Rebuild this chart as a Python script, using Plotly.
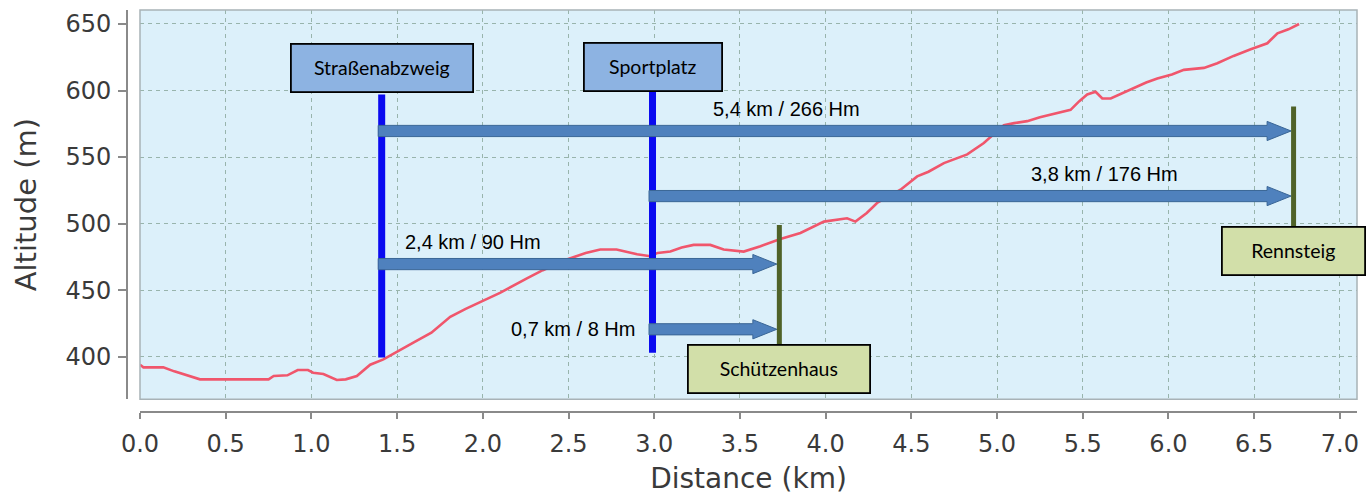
import plotly.graph_objects as go

# ---------------- data ----------------
dist_km = [0.0, 0.02, 0.136, 0.2, 0.35, 0.75, 0.78, 0.86, 0.92, 0.98, 1.01, 1.07, 1.148, 1.2,
           1.265, 1.343, 1.42, 1.50, 1.60, 1.70, 1.81, 1.90, 2.0, 2.10, 2.26, 2.35, 2.49, 2.60,
           2.685, 2.78, 2.90, 2.977, 3.02, 3.094, 3.16, 3.23, 3.327, 3.405, 3.522, 3.62, 3.736,
           3.853, 3.99, 4.07, 4.125, 4.174, 4.24, 4.30, 4.437, 4.534, 4.60, 4.69, 4.76, 4.826,
           4.923, 4.98, 5.04, 5.10, 5.176, 5.25, 5.312, 5.38, 5.429, 5.48, 5.526, 5.575, 5.614,
           5.663, 5.73, 5.80, 5.87, 5.935, 6.02, 6.09, 6.207, 6.285, 6.38, 6.48, 6.577, 6.636,
           6.70, 6.762]
altitude_m = [394, 392, 392, 389, 383, 383, 385.5, 386, 390, 390, 388, 387, 382.5, 383,
              385.5, 394, 398, 404, 411, 418, 430, 436, 442, 448, 459, 465, 473, 478,
              480.5, 480.5, 477, 475.5, 478, 479, 482, 484, 484, 480.5, 479, 483, 488.5,
              493, 501.5, 503, 504, 501.5, 508, 515.5, 525.5, 535.5, 539, 545.5, 549, 552,
              560.5, 567, 574, 575.5, 577, 580, 582, 584, 585.5, 592, 597, 599, 594,
              594, 598, 602, 606, 609, 612, 615.5, 617, 620.5, 626, 631, 635.5, 643,
              646, 650]

# start points (blue bars)
start_names = ["Straßenabzweig", "Sportplatz"]
start_km = [1.41, 2.99]
start_bar_bottom = [399.5, 403.0]
start_bar_top = [597.0, 599.5]
start_box_alt = [616.6, 617.7]

# destinations (green lines)
dest_names = ["Schützenhaus", "Rennsteig"]
dest_km = [3.73, 6.73]
dest_line_top = [499.0, 588.0]
dest_box_alt = [390.9, 479.8]

# arrows: from start index -> destination index
arrow_from = [0, 1, 0, 1]
arrow_to = [1, 1, 0, 0]
arrow_alt = [569.6, 520.7, 469.6, 420.6]
arrow_labels = ["5,4 km / 266 Hm", "3,8 km / 176 Hm", "2,4 km / 90 Hm", "0,7 km / 8 Hm"]

x_ticks = [0.0, 0.5, 1.0, 1.5, 2.0, 2.5, 3.0, 3.5, 4.0, 4.5, 5.0, 5.5, 6.0, 6.5, 7.0]
y_ticks = [400, 450, 500, 550, 600, 650]

# ---------------- layout geometry ----------------
W, H = 1372, 495
ML, MR, MT, MB = 127, 15, 10, 83
X_RANGE = [0, 7.1]
Y_RANGE = [368.0, 660.5]
XDOM = [13 / (W - ML - MR), 1]
YDOM = [12.7 / (H - MT - MB), 1]

plot_w_px = (W - ML - MR) * (XDOM[1] - XDOM[0])
plot_h_px = (H - MT - MB) * (YDOM[1] - YDOM[0])
KM_PER_PX = (X_RANGE[1] - X_RANGE[0]) / plot_w_px
M_PER_PX = (Y_RANGE[1] - Y_RANGE[0]) / plot_h_px

# label positions (layout)
label_pos = [(3.77, 586.1), (5.627, 537.3), (1.945, 486.2), (2.524, 420.8)]

fig = go.Figure()
fig.add_trace(go.Scatter(x=dist_km, y=altitude_m, mode="lines",
                         line=dict(color="#f0566c", width=2.6),
                         hoverinfo="skip", showlegend=False))

shapes = []
# plot border
shapes.append(dict(type="rect", xref="x domain", yref="y domain", x0=0, x1=1, y0=0, y1=1,
                   line=dict(color="#a8b2b6", width=1.5), layer="above"))
# blue bars
BAR_W = 7
for i in range(len(start_km)):
    shapes.append(dict(type="line", xref="x", yref="y", x0=start_km[i], x1=start_km[i],
                       y0=start_bar_bottom[i], y1=start_bar_top[i],
                       line=dict(color="#0a0af0", width=BAR_W), layer="above"))
# arrows
SHAFT_H = 5.6 * M_PER_PX
HEAD_H = 9.6 * M_PER_PX
HEAD_L = 24 * KM_PER_PX
for k in range(len(arrow_alt)):
    x0 = start_km[arrow_from[k]] - (BAR_W / 2) * KM_PER_PX
    x1 = dest_km[arrow_to[k]] - 2.5 * KM_PER_PX
    xh = x1 - HEAD_L
    y = arrow_alt[k]
    path = (f"M {x0},{y + SHAFT_H} L {xh},{y + SHAFT_H} L {xh},{y + HEAD_H} L {x1},{y} "
            f"L {xh},{y - HEAD_H} L {xh},{y - SHAFT_H} L {x0},{y - SHAFT_H} Z")
    shapes.append(dict(type="path", xref="x", yref="y", path=path,
                       fillcolor="#4f81bd", line=dict(color="#3a6696", width=1), layer="above"))
# green lines
for j in range(len(dest_km)):
    shapes.append(dict(type="line", xref="x", yref="y", x0=dest_km[j], x1=dest_km[j],
                       y0=dest_box_alt[j], y1=dest_line_top[j],
                       line=dict(color="#4f6228", width=5), layer="above"))

annotations = []
for i, name in enumerate(start_names):
    w = 180 if i == 0 else 136
    annotations.append(dict(x=start_km[i], y=start_box_alt[i], xref="x", yref="y",
                            text=name, showarrow=False, width=w, height=46,
                            bgcolor="#8db3e2", bordercolor="#000000", borderwidth=1.8,
                            borderpad=0, font=dict(family="Lato", size=19.5, color="#000")))
for j, name in enumerate(dest_names):
    w = 180 if j == 0 else 141
    annotations.append(dict(x=dest_km[j], y=dest_box_alt[j], xref="x", yref="y",
                            text=name, showarrow=False, width=w, height=46,
                            bgcolor="#d2dfa9", bordercolor="#000000", borderwidth=1.8,
                            borderpad=0, font=dict(family="Lato", size=19.5, color="#000")))
for k, lab in enumerate(arrow_labels):
    annotations.append(dict(x=label_pos[k][0], y=label_pos[k][1], xref="x", yref="y",
                            text=lab, showarrow=False,
                            font=dict(family="Liberation Sans", size=20, color="#000")))

fig.update_layout(
    width=W, height=H,
    margin=dict(l=ML, r=MR, t=MT, b=MB, autoexpand=False),
    paper_bgcolor="white", plot_bgcolor="#dcf0fa",
    shapes=shapes, annotations=annotations,
    xaxis=dict(domain=XDOM, range=X_RANGE, anchor="free", position=0, automargin=False,
               tickvals=x_ticks, ticktext=[f"{v:.1f}" for v in x_ticks],
               showline=True, linecolor="#8a8a8a", linewidth=2,
               ticks="outside", ticklen=6, tickwidth=1.5, tickcolor="#8a8a8a",
               ticklabelstandoff=4,
               tickfont=dict(family="DejaVu Sans", size=24, color="#3a3a3a"),
               showgrid=True, gridcolor="#98b4ac", gridwidth=1, griddash="4px,4px",
               zeroline=False,
               title=dict(text="Distance (km)", standoff=11,
                          font=dict(family="DejaVu Sans", size=28, color="#3a3a3a"))),
    yaxis=dict(domain=YDOM, range=Y_RANGE, anchor="free", position=0, automargin=False,
               tickvals=y_ticks,
               showline=True, linecolor="#8a8a8a", linewidth=2,
               ticks="outside", ticklen=8, tickwidth=1.5, tickcolor="#8a8a8a",
               ticklabelstandoff=2,
               tickfont=dict(family="DejaVu Sans", size=24, color="#3a3a3a"),
               showgrid=True, gridcolor="#98b4ac", gridwidth=1, griddash="4px,4px",
               zeroline=False,
               title=dict(text="Altitude (m)", standoff=19,
                          font=dict(family="DejaVu Sans", size=29, color="#3a3a3a"))),
)

fig.write_html("out.html", config={"displayModeBar": False},
               post_script="document.body.style.margin='0';")
